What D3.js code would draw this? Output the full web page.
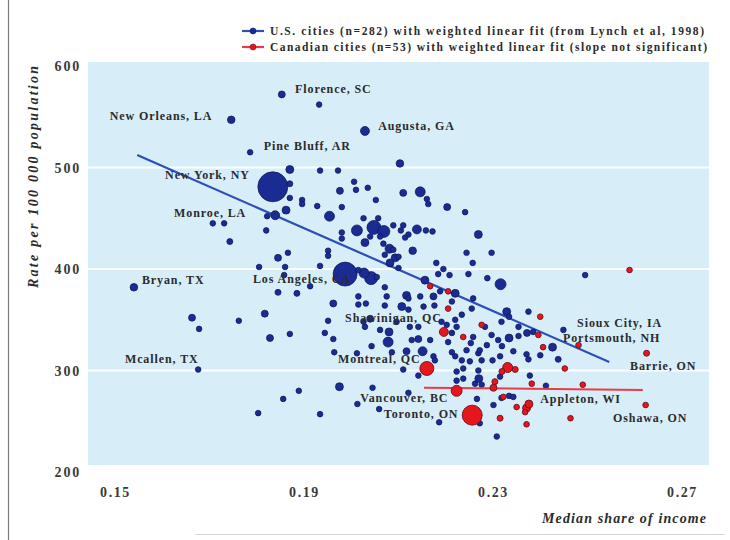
<!DOCTYPE html>
<html>
<head>
<meta charset="utf-8">
<script src="https://cdn.jsdelivr.net/npm/d3@7"></script>
<style>
  body { margin: 0; background: #fff; }
  svg { display: block; font-family: "Liberation Serif", "DejaVu Serif", serif; }
</style>
</head>
<body>
<svg id="chart" width="730" height="540"></svg>
<script>
// U.S. cities: [median share of income, rate per 100 000, population (thousands)]
const usCities = [
  [0.1853,572,430],[0.1932,562,280],[0.1746,547,510],[0.2029,536,710],[0.1786,515,280],
  [0.2103,504,510],[0.1870,498,560],[0.1934,497,280],[0.1972,497,280],[0.1834,481,7910],
  [0.1870,484,320],[0.1870,470,280],[0.1896,468,280],[0.1896,464,280],[0.1928,462,280],
  [0.1980,461,280],[0.1976,477,430],[0.2006,486,280],[0.2010,478,280],[0.1862,458,560],
  [0.1839,453,710],[0.1822,452,280],[0.1954,452,880],[0.1707,445,280],[0.1731,445,280],
  [0.2012,438,1060],[0.1820,438,280],[0.1743,427,320],[0.1980,436,280],[0.1980,430,280],
  [0.1866,416,280],[0.1845,411,430],[0.1951,418,280],[0.1951,413,280],[0.1805,402,280],
  [0.1860,402,280],[0.1858,394,280],[0.1913,383,280],[0.1885,376,320],[0.1845,377,320],
  [0.1540,382,510],[0.1663,352,430],[0.1678,341,280],[0.1762,349,280],[0.1817,356,430],
  [0.1870,336,280],[0.1828,332,430],[0.1676,301,280],[0.1889,280,280],[0.1856,272,280],
  [0.1803,258,280],[0.1934,403,280],[0.2035,480,280],[0.2052,468,280],[0.2110,475,430],
  [0.2146,476,880],[0.2160,469,280],[0.2163,464,280],[0.2203,461,430],[0.2241,456,280],
  [0.2026,450,280],[0.2057,450,280],[0.2048,441,1720],[0.2069,437,1270],[0.2029,426,560],
  [0.2089,443,280],[0.2110,443,280],[0.2105,438,280],[0.2121,434,280],[0.2139,439,710],
  [0.2158,438,280],[0.2172,437,280],[0.2114,431,280],[0.2068,425,280],[0.2081,420,710],
  [0.2089,419,280],[0.2071,414,280],[0.2093,411,560],[0.2100,412,280],[0.2082,406,560],
  [0.2100,401,280],[0.2130,418,510],[0.2269,434,560],[0.2244,416,280],[0.2297,416,280],
  [0.2257,406,280],[0.2180,406,280],[0.2195,400,280],[0.2208,394,280],[0.2248,395,280],
  [0.2184,395,280],[0.2288,391,280],[0.2316,385,1060],[0.1987,395,5060],[0.2042,391,1490],
  [0.2027,396,880],[0.2015,399,280],[0.2156,389,560],[0.2071,382,280],[0.2075,373,280],
  [0.2117,374,560],[0.2121,371,280],[0.2146,373,280],[0.2174,373,430],[0.2188,378,280],
  [0.2220,376,560],[0.2258,371,280],[0.2015,373,280],[0.2054,392,280],[0.1962,366,430],
  [0.2015,365,280],[0.2031,366,280],[0.2071,364,280],[0.2107,363,560],[0.2121,360,280],
  [0.2176,364,280],[0.2213,368,280],[0.2234,355,280],[0.2255,361,280],[0.2153,363,280],
  [0.1951,349,280],[0.2040,351,430],[0.2096,348,280],[0.2124,343,280],[0.2142,343,280],
  [0.2191,348,280],[0.2202,345,280],[0.2220,350,280],[0.2223,343,280],[0.2258,333,280],
  [0.2283,343,280],[0.2297,335,280],[0.1944,337,280],[0.1962,331,280],[0.2029,343,280],
  [0.2061,340,280],[0.2080,338,560],[0.2078,328,880],[0.2043,324,280],[0.2128,330,280],
  [0.2142,331,430],[0.2167,330,280],[0.2205,328,280],[0.2213,337,280],[0.2253,327,280],
  [0.2269,317,280],[0.2244,320,280],[0.2287,325,280],[0.2299,310,280],[0.2311,330,280],
  [0.1964,318,280],[0.2012,317,280],[0.2086,318,280],[0.2117,319,430],[0.2151,319,710],
  [0.2174,314,280],[0.2213,318,280],[0.2220,314,280],[0.2234,310,280],[0.2251,309,280],
  [0.2110,301,280],[0.2177,310,280],[0.2142,295,280],[0.2223,290,280],[0.2237,292,280],
  [0.2270,292,560],[0.2262,287,280],[0.2276,286,280],[0.1975,284,560],[0.2045,283,280],
  [0.2121,278,280],[0.2266,272,280],[0.2301,266,280],[0.1934,257,280],[0.2013,267,280],
  [0.2059,262,280],[0.2186,249,280],[0.2272,248,280],[0.2308,235,280],[0.2223,299,280],
  [0.2237,302,280],[0.2269,300,280],[0.2378,295,280],[0.2026,348,280],[0.2495,394,280],
  [0.2329,358,560],[0.2334,353,280],[0.2375,358,280],[0.2318,348,280],[0.2354,343,280],
  [0.2372,337,430],[0.2385,338,280],[0.2334,332,560],[0.2449,340,280],[0.2426,323,560],
  [0.2319,324,280],[0.2343,319,280],[0.2371,316,280],[0.2400,315,280],[0.2438,311,320],
  [0.2375,311,280],[0.2276,310,280],[0.2318,273,280],[0.2334,275,280],[0.2343,274,280],
  [0.2412,285,280],[0.2354,334,280],[0.2272,320,280],[0.2315,314,280],[0.2315,294,280],
  [0.2040,432,280],[0.2061,432,280]
];

// Canadian cities: [median share of income, rate per 100 000, population (thousands)]
const canCities = [
  [0.2160,302,1720],[0.2223,280,1060],[0.2256,256,3520],[0.2331,303,880],[0.2319,299,320],
  [0.2347,301,320],[0.2196,338,710],[0.2205,361,280],[0.2167,383,280],[0.2205,378,280],
  [0.2276,345,280],[0.2237,333,280],[0.2400,353,280],[0.2396,335,280],[0.2406,323,280],
  [0.2452,302,280],[0.2481,325,280],[0.2625,317,320],[0.2589,399,280],[0.2304,289,320],
  [0.2301,283,430],[0.2382,287,280],[0.2490,286,280],[0.2350,264,280],[0.2371,263,560],
  [0.2376,267,560],[0.2368,259,280],[0.2315,253,320],[0.2371,247,280],[0.2464,253,280],
  [0.2623,266,280],[0.2322,274,280]
];

// Weighted linear fits: rate = intercept + slope * share, over the plotted share range
const usFitCoef = [828, -2041];
const usFitRange = [0.1547, 0.2546];
const canFitCoef = [293.2, -47];
const canFitRange = [0.2154, 0.2617];

// Named cities: [name, share where the label starts, rate at the label's middle]
const cityLabels = [
  ["Florence, SC", 0.1881, 578],
  ["New Orleans, LA", 0.1489, 551],
  ["Augusta, GA", 0.2057, 541],
  ["Pine Bluff, AR", 0.1815, 521],
  ["New York, NY", 0.1606, 493],
  ["Monroe, LA", 0.1625, 455],
  ["Bryan, TX", 0.1557, 389],
  ["Los Angeles, CA", 0.1792, 390],
  ["Shawinigan, QC", 0.1987, 352],
  ["Montreal, QC", 0.1972, 312],
  ["Mcallen, TX", 0.1521, 312],
  ["Vancouver, BC", 0.2019, 273],
  ["Toronto, ON", 0.2069, 257],
  ["Appleton, WI", 0.2400, 272],
  ["Sioux City, IA", 0.2478, 347],
  ["Portsmouth, NH", 0.2448, 332],
  ["Barrie, ON", 0.2590, 305],
  ["Oshawa, ON", 0.2554, 253]
];

const xTicks = [0.15, 0.19, 0.23, 0.27];
const yTicks = [200, 300, 400, 500, 600];
const gridRates = [300, 400, 500];

const legendItems = [
  "U.S. cities (n=282) with weighted linear fit (from Lynch et al, 1998)",
  "Canadian cities (n=53) with weighted linear fit (slope not significant)"
];

// ---- drawing ----
const svg = d3.select("#chart");
const x = d3.scaleLinear().domain([0.15, 0.27]).range([115, 682]);
const y = d3.scaleLinear().domain([200, 600]).range([472, 66]);
const r = d3.scaleSqrt().domain([0, 9000]).range([0, 16]);

const US_FILL = "#1b2b94", US_STROKE = "#0b1658", US_LINE = "#2d4fb6";
const CA_FILL = "#e5171d", CA_STROKE = "#6e1222", CA_LINE = "#ec3b46";
const TEXT = "#2b2b2b";

// frame line at the left of the figure and a faint rule at the bottom
svg.append("line").attr("x1", 8.5).attr("x2", 8.5).attr("y1", 0).attr("y2", 540)
  .attr("stroke", "#7a7a7a").attr("stroke-width", 1.2);
svg.append("line").attr("x1", 195).attr("x2", 725).attr("y1", 534.5).attr("y2", 534.5)
  .attr("stroke", "#d4d4d4").attr("stroke-width", 1);

// plot panel
svg.append("rect").attr("x", 88).attr("y", 62).attr("width", 621).attr("height", 403)
  .attr("fill", "#d7eef9");

svg.append("g").selectAll("line").data(gridRates).join("line")
  .attr("x1", 88).attr("x2", 709)
  .attr("y1", d => y(d)).attr("y2", d => y(d))
  .attr("stroke", "#ffffff").attr("stroke-width", 2).attr("opacity", 0.9);

// axes (labels only)
const xAxis = d3.axisBottom(x).tickValues(xTicks).tickSize(0).tickPadding(0)
  .tickFormat(d3.format(".2f"));
svg.append("g").attr("transform", "translate(0,492)").call(xAxis)
  .call(g => g.select(".domain").remove())
  .selectAll("text")
  .attr("y", 0).attr("dy", "0.35em")
  .attr("font-family", "Liberation Serif, serif").attr("font-size", 14)
  .attr("font-weight", "bold").attr("letter-spacing", 1.6).attr("fill", "#3a3a3a");

const yAxis = d3.axisLeft(y).tickValues(yTicks).tickSize(0).tickPadding(0);
svg.append("g").attr("transform", "translate(81,0)").call(yAxis)
  .call(g => g.select(".domain").remove())
  .selectAll("text")
  .attr("x", 0).attr("dy", "0.35em")
  .attr("font-family", "Liberation Serif, serif").attr("font-size", 14)
  .attr("font-weight", "bold").attr("letter-spacing", 1.8).attr("fill", "#3a3a3a");

// axis titles
svg.append("text")
  .attr("transform", "translate(33,177) rotate(-90)")
  .attr("text-anchor", "middle").attr("dy", "0.35em")
  .attr("font-size", 14).attr("font-weight", "bold").attr("font-style", "italic")
  .attr("fill", TEXT).attr("textLength", 222).attr("lengthAdjust", "spacing")
  .text("Rate per 100 000 population");

svg.append("text")
  .attr("x", 706).attr("y", 518).attr("text-anchor", "end").attr("dy", "0.35em")
  .attr("font-size", 14).attr("font-weight", "bold").attr("font-style", "italic")
  .attr("fill", TEXT).attr("textLength", 164).attr("lengthAdjust", "spacing")
  .text("Median share of income");

// fitted lines
const fitLine = coef => d3.line()
  .x(d => x(d))
  .y(d => y(coef[0] + coef[1] * d));

svg.append("path").datum(usFitRange).attr("d", fitLine(usFitCoef))
  .attr("fill", "none").attr("stroke", US_LINE).attr("stroke-width", 2.2);

// bubbles, largest first so small cities stay visible
const bySizeDesc = arr => arr.slice().sort((a, b) => b[2] - a[2]);

svg.append("g").selectAll("circle").data(bySizeDesc(usCities)).join("circle")
  .attr("cx", d => x(d[0])).attr("cy", d => y(d[1])).attr("r", d => r(d[2]))
  .attr("fill", US_FILL).attr("stroke", US_STROKE).attr("stroke-width", 0.7);

svg.append("path").datum(canFitRange).attr("d", fitLine(canFitCoef))
  .attr("fill", "none").attr("stroke", CA_LINE).attr("stroke-width", 2);

svg.append("g").selectAll("circle").data(bySizeDesc(canCities)).join("circle")
  .attr("cx", d => x(d[0])).attr("cy", d => y(d[1])).attr("r", d => r(d[2]))
  .attr("fill", CA_FILL).attr("stroke", CA_STROKE).attr("stroke-width", 0.9);

// city names
svg.append("g").selectAll("text").data(cityLabels).join("text")
  .attr("x", d => x(d[1])).attr("y", d => y(d[2])).attr("dy", "0.35em")
  .attr("font-size", 12).attr("font-weight", "bold").attr("letter-spacing", 0.9)
  .attr("fill", TEXT).text(d => d[0]);

// legend
const legendColors = [[US_LINE, US_FILL, US_STROKE], [CA_LINE, CA_FILL, CA_STROKE]];
const legend = svg.append("g").selectAll("g").data(legendItems).join("g")
  .attr("transform", (d, i) => `translate(242,${31 + i * 16})`);
legend.append("line").attr("x1", 0).attr("x2", 22)
  .attr("stroke", (d, i) => legendColors[i][0]).attr("stroke-width", 2.2);
legend.append("circle").attr("cx", 11).attr("r", 3)
  .attr("fill", (d, i) => legendColors[i][1]).attr("stroke", (d, i) => legendColors[i][2]).attr("stroke-width", 0.6);
legend.append("text").attr("x", 28).attr("dy", "0.35em")
  .attr("font-size", 11.5).attr("font-weight", "bold").attr("fill", TEXT)
  .attr("textLength", (d, i) => i === 0 ? 434 : 437).attr("lengthAdjust", "spacing")
  .text(d => d);
</script>
</body>
</html>
